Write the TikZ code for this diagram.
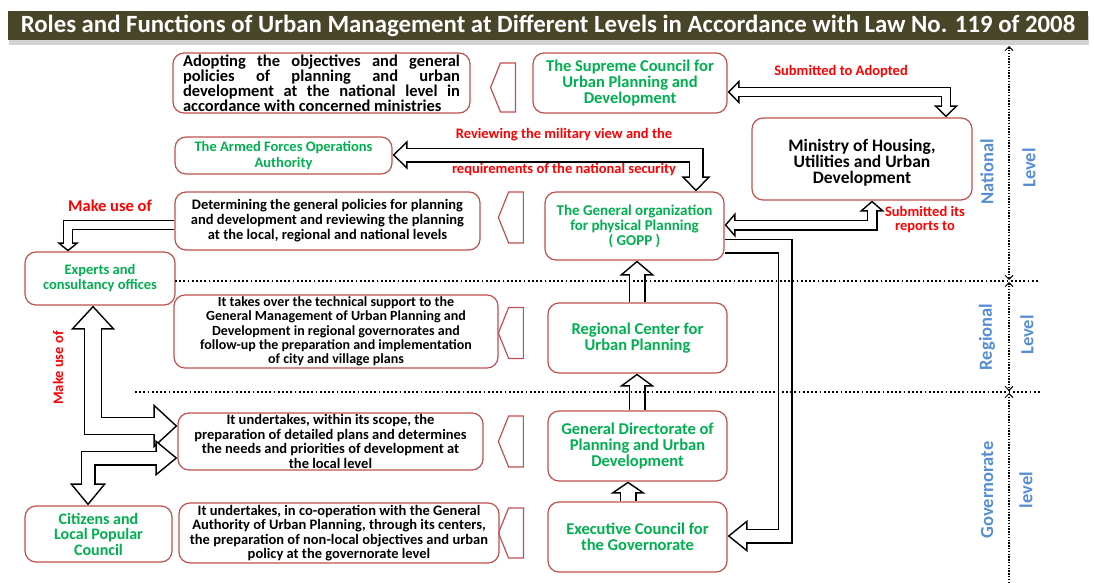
\documentclass[tikz,border=0pt]{standalone}
\usepackage{fontspec}
\setmainfont{Carlito}
\usetikzlibrary{arrows.meta,shapes.symbols,shadows,backgrounds}

\definecolor{boxred}{RGB}{192,80,77}
\definecolor{orggreen}{RGB}{0,176,80}
\definecolor{levelblue}{RGB}{85,142,213}
\definecolor{banner}{RGB}{73,69,41}

\tikzset{
  orgbox/.style={draw=boxred, line width=1.2pt, rounded corners=11pt, fill=white, inner sep=0pt, align=center, text=orggreen, font=\bfseries\fontsize{16.5}{16}\selectfont},
  taskbox/.style={draw=boxred, line width=1.2pt, rounded corners=11pt, fill=white, inner sep=0pt, align=center, text=black, font=\bfseries\fontsize{14.5}{14.5}\selectfont},
  pointer/.style={draw=boxred, line width=1.2pt, signal, signal to=west, signal pointer angle=136, inner sep=0pt, minimum width=25pt},
  redlabel/.style={text=red, align=center, font=\bfseries\fontsize{14.5}{14}\selectfont},
  levellabel/.style={text=levelblue, rotate=90, font=\bfseries\fontsize{18.5}{18.5}\selectfont},
  hollow/.style n args={3}{line width=#1pt, -{Triangle[length=#2pt, width=#3pt, line width=1.4pt, fill=white]},
    postaction={draw=white, line width=#1pt-2.8pt, arrows=-, shorten >=#2pt-2pt}},
  hollowboth/.style n args={3}{line width=#1pt, {Triangle[length=#2pt, width=#3pt, line width=1.4pt, fill=white]}-{Triangle[length=#2pt, width=#3pt, line width=1.4pt, fill=white]},
    postaction={draw=white, line width=#1pt-2.8pt, arrows=-, shorten >=#2pt-2pt, shorten <=#2pt-2pt}},
  sepline/.style={line width=1.6pt, dash pattern=on 1.8pt off 2.4pt},
  levelline/.style={line width=1.4pt, dash pattern=on 1.4pt off 1.4pt},
}

\begin{document}
\begin{tikzpicture}[x=1pt, y=-1pt]
  \useasboundingbox (0,0) rectangle (1094,583);

  % title bar
  \node[fill=banner, text=white, minimum width=1080pt, minimum height=29pt, inner sep=0pt,
    font=\bfseries\fontsize{24.8}{24}\selectfont,
    drop shadow={shadow xshift=1pt, shadow yshift=-5pt, fill=black!35, opacity=.5}] (title) at (548,26)
    {Roles and Functions of Urban Management at Different Levels in Accordance with Law No. 119 of 2008};

  % national level
  \node[taskbox, minimum width=297pt, minimum height=60pt, font=\bfseries\fontsize{16.5}{15}\selectfont] (adopt) at (321.5,83)
    {\makebox[277pt][s]{Adopting the objectives and general}\\
     \makebox[277pt][s]{policies of planning and urban}\\
     \makebox[277pt][s]{development at the national level in}\\
     \makebox[277pt][l]{accordance with concerned ministries}};
  \node[orgbox, minimum width=194pt, minimum height=60pt] (supreme) at (630,83)
    {The Supreme Council for\\Urban Planning and\\Development};
  \node[taskbox, minimum width=220pt, minimum height=82pt, font=\bfseries\fontsize{17.5}{16}\selectfont] (ministry) at (862,159)
    {\rule{0pt}{20pt}Ministry of Housing,\\Utilities and Urban\\Development};
  \node[orgbox, minimum width=217pt, minimum height=37pt, font=\bfseries\fontsize{14.5}{16}\selectfont] (armed) at (283.5,155.5)
    {The Armed Forces Operations\\Authority};
  \node[taskbox, minimum width=305pt, minimum height=58pt, font=\bfseries\fontsize{14.5}{15}\selectfont] (determ) at (327.5,221)
    {Determining the general policies for planning\\and development and reviewing the planning\\at the local, regional and national levels};
  \node[orgbox, minimum width=179pt, minimum height=68pt, font=\bfseries\fontsize{15}{15}\selectfont] (gopp) at (634.5,226)
    {The General organization\\for physical Planning\\( GOPP )};
  \node[orgbox, minimum width=150pt, minimum height=53pt, font=\bfseries\fontsize{14.5}{15}\selectfont] (experts) at (100,278.5)
    {Experts and\\consultancy offices};

  % regional level
  \node[taskbox, minimum width=324pt, minimum height=73pt, font=\bfseries\fontsize{14}{14.3}\selectfont] (takeover) at (336,331.5)
    {It takes over the technical support to the\\General Management of Urban Planning and\\Development in regional governorates and\\follow-up the preparation and implementation\\of city and village plans};
  \node[orgbox, minimum width=179pt, minimum height=70pt] (regional) at (637.5,338)
    {Regional Center for\\Urban Planning};

  % governorate level
  \node[taskbox, minimum width=305pt, minimum height=57pt] (undertake) at (330.5,441.5)
    {It undertakes, within its scope, the\\preparation of detailed plans and determines\\the needs and priorities of development at\\the local level};
  \node[orgbox, minimum width=179pt, minimum height=70pt] (gendir) at (637.5,446)
    {General Directorate of\\Planning and Urban\\Development};
  \node[orgbox, minimum width=147pt, minimum height=56pt, font=\bfseries\fontsize{16}{15.5}\selectfont] (citizens) at (98.5,534)
    {Citizens and\\Local Popular\\Council};
  \node[taskbox, minimum width=320pt, minimum height=60pt] (coop) at (339,533)
    {It undertakes, in co-operation with the General\\Authority of Urban Planning, through its centers,\\the preparation of non-local objectives and urban\\policy at the governorate level};
  \node[orgbox, minimum width=179pt, minimum height=70pt] (exec) at (637.5,537)
    {Executive Council for\\the Governorate};

  % pointers between tasks and bodies
  \node[pointer, minimum height=49pt] (p1) at (508,87.5) {};
  \node[pointer, minimum height=51pt] (p2) at (516,217.5) {};
  \node[pointer, minimum height=51pt] (p3) at (516,333) {};
  \node[pointer, minimum height=51pt] (p4) at (516,441.5) {};
  \node[pointer, minimum height=50pt] (p5) at (516,533) {};

  % level separators
  \draw[sepline] (175,281) -- (1040,281);
  \draw[sepline] (135,392) -- (1040,392);
  \coordinate (lvtop) at (1009,45);
  \coordinate (lvreg) at (1009,281);
  \coordinate (lvgov) at (1009,392);
  \coordinate (lvbot) at (1009,583);
  \draw[levelline, {Straight Barb[length=4pt, width=8pt, line width=1pt]}-{Straight Barb[length=4pt, width=8pt, line width=1pt]}, shorten <=1pt, shorten >=1pt] (lvtop) -- (lvreg);
  \draw[levelline, {Straight Barb[length=4pt, width=8pt, line width=1pt]}-{Straight Barb[length=4pt, width=8pt, line width=1pt]}, shorten <=1pt, shorten >=1pt] (lvreg) -- (lvgov);
  \draw[levelline, -{Straight Barb[length=4pt, width=8pt, line width=1pt]}, shorten >=1pt] (lvbot) -- (lvgov);

  \node[levellabel] (nat) at (987,172) {National};
  \node[levellabel] (natl) at (1029,168) {Level};
  \node[levellabel] (reg) at (987,337) {Regional};
  \node[levellabel] (regl) at (1027,335) {Level};
  \node[levellabel] (gov) at (987,490) {Governorate};
  \node[levellabel] (govl) at (1026,490) {level};

  % labels
  \node[redlabel] (lbadopt) at (841,72) {Submitted to Adopted};
  \node[redlabel] (lbmil) at (564,135) {Reviewing the military view and the};
  \node[redlabel] (lbsec) at (564,170) {requirements of the national security};
  \node[redlabel] (lbrep) at (925,220) {Submitted its\\reports to};
  \node[redlabel, font=\bfseries\fontsize{16.5}{16}\selectfont] (lbuse) at (110,206) {Make use of};
  \node[redlabel, rotate=90] (lbuse2) at (58,368) {Make use of};

  % hollow arrows
  \begin{scope}[on background layer]
    \draw[hollowboth={10}{12}{24}] (supreme.east |- 0,92) -| (ministry.north -| 946,0);
    \draw[hollowboth={15}{15}{29}] (armed.east |- 0,155) -| (gopp.north -| 696,0);
    \draw[hollowboth={11}{11}{25}] (gopp.east |- 0,225) -| (ministry.south -| 872,0);
    \draw[hollow={15}{20}{32}] (gopp.east |- 0,246) -| (785,536) -- (exec.east |- 0,536);
    \draw[hollow={10}{9}{22}] (determ.west |- 0,225) -| (experts.north -| 68,0);
    \draw[hollowboth={18}{24}{44}] (experts.south -| 93,0) |- (undertake.west |- 0,426);
    \draw[hollowboth={15}{22}{36}] (undertake.west |- 0,458) -| (citizens.north -| 88,0);
    \draw[hollow={17}{15}{35}] (regional.north -| 637,0) -- (gopp.south -| 637,0);
    \draw[hollow={17}{13}{35}] (gendir.north -| 637,0) -- (regional.south -| 637,0);
    \draw[hollow={17}{12}{35}] (exec.north -| 628,0) -- (gendir.south -| 628,0);
  \end{scope}
\end{tikzpicture}
\end{document}
